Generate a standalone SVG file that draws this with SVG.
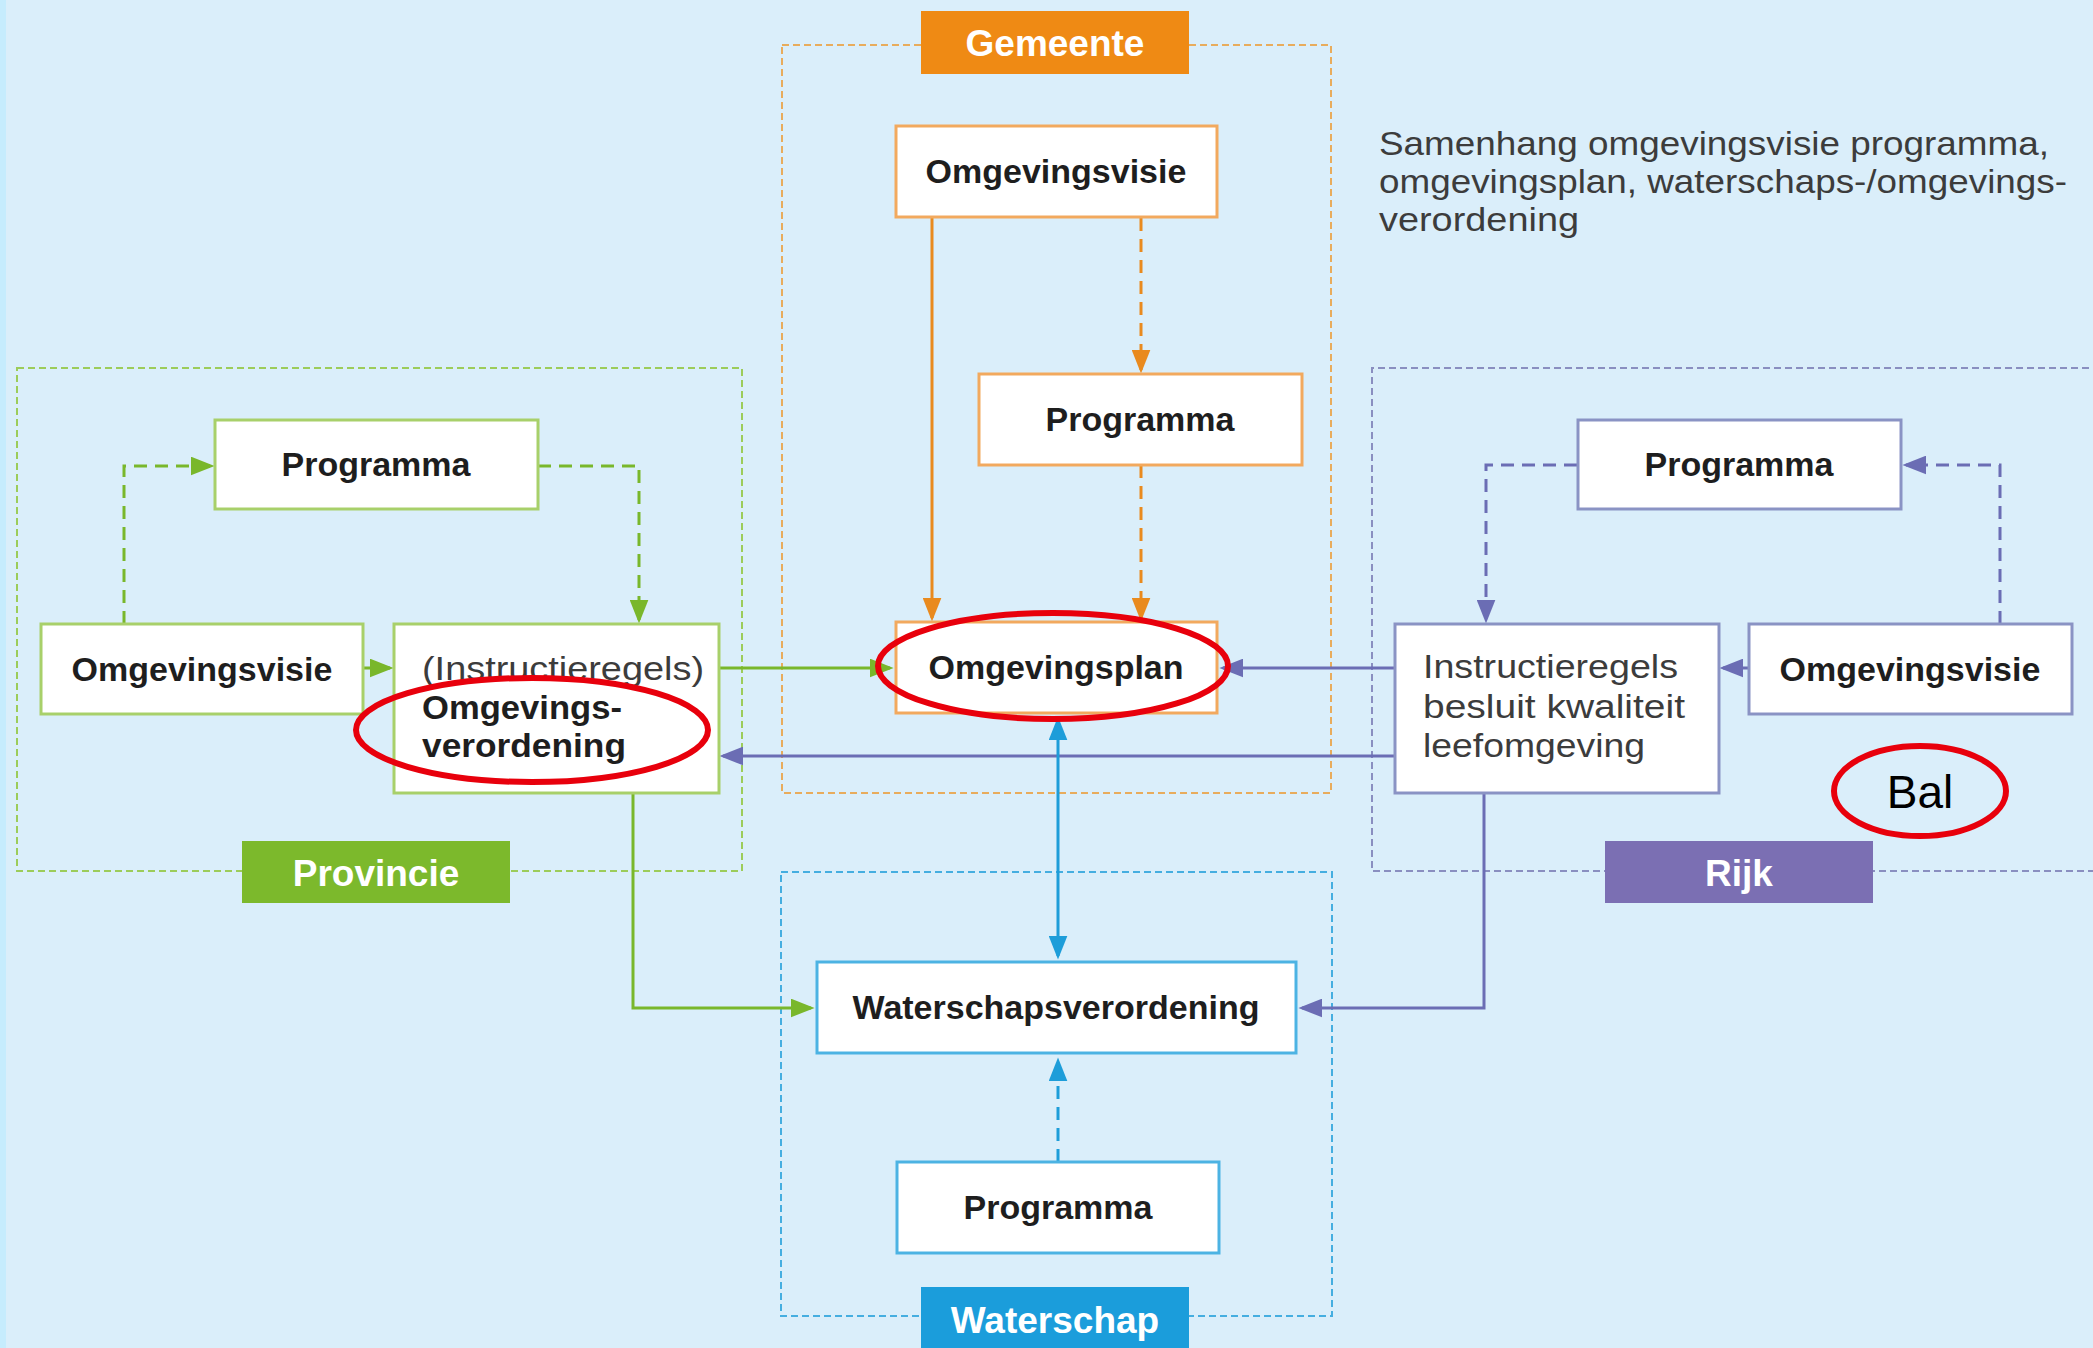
<svg xmlns="http://www.w3.org/2000/svg" width="2093" height="1348" viewBox="0 0 2093 1348">
<defs>
<style>
.t{font-family:"Liberation Sans",Arial,"DejaVu Sans",sans-serif;fill:#1e1e1e}
.b{font-weight:700;font-size:34px;text-anchor:middle}
.r{font-weight:400;font-size:33.5px;fill:#3c3c3c}
.bl{font-weight:700;font-size:34px;fill:#1e1e1e}
.lbl{font-weight:700;font-size:37px;fill:#fff;text-anchor:middle}
.grp{fill:none;stroke-width:2;stroke-dasharray:7 4}
.node{fill:#fff;stroke-width:3}
.ln{fill:none;stroke-width:3}
.dash{stroke-dasharray:13 8}
.red{fill:none;stroke:#e8000c;stroke-width:6}
.go{stroke:#e8ac5c}.gp{stroke:#9ccc5a}.gr{stroke:#8a8fc0}.gw{stroke:#45aee0}
.no{stroke:#f2a95e}.np{stroke:#a8d06a}.nr{stroke:#8a93c4}.nw{stroke:#4cb3e3}
.lo{stroke:#e98a1e}.lp{stroke:#79b72b}.lr{stroke:#6b6db4}.lw{stroke:#1d9dd9}
</style>
<marker id="aO" viewBox="0 0 10 10" refX="8.5" refY="5" markerWidth="24" markerHeight="19" markerUnits="userSpaceOnUse" preserveAspectRatio="none" orient="auto"><path d="M0,0L10,5L0,10z" fill="#e98a1e"/></marker>
<marker id="aP" viewBox="0 0 10 10" refX="8.5" refY="5" markerWidth="24" markerHeight="19" markerUnits="userSpaceOnUse" preserveAspectRatio="none" orient="auto"><path d="M0,0L10,5L0,10z" fill="#79b72b"/></marker>
<marker id="aR" viewBox="0 0 10 10" refX="8.5" refY="5" markerWidth="24" markerHeight="19" markerUnits="userSpaceOnUse" preserveAspectRatio="none" orient="auto"><path d="M0,0L10,5L0,10z" fill="#6b6db4"/></marker>
<marker id="aW" viewBox="0 0 10 10" refX="8.5" refY="5" markerWidth="24" markerHeight="19" markerUnits="userSpaceOnUse" preserveAspectRatio="none" orient="auto-start-reverse"><path d="M0,0L10,5L0,10z" fill="#1d9dd9"/></marker>
</defs>

<rect x="0" y="0" width="2093" height="1348" fill="#daeefa"/>
<rect x="0" y="0" width="6" height="1348" fill="#c6ecfd"/>

<!-- group frames -->
<g id="groups">
  <rect class="grp go" x="782" y="45" width="549" height="748"/>
  <rect class="grp gp" x="17" y="368" width="725" height="503"/>
  <path class="grp gr" d="M2100,368 H1372 V871 H2100"/>
  <rect class="grp gw" x="781" y="872" width="551" height="444"/>
</g>

<!-- title -->
<g id="title">
  <text class="t r" x="1379" y="155" textLength="670" lengthAdjust="spacingAndGlyphs">Samenhang omgevingsvisie programma,</text>
  <text class="t r" x="1379" y="193" textLength="688" lengthAdjust="spacingAndGlyphs">omgevingsplan, waterschaps-/omgevings-</text>
  <text class="t r" x="1379" y="231" textLength="200" lengthAdjust="spacingAndGlyphs">verordening</text>
</g>

<!-- connectors -->
<g id="connectors">
  <path class="ln lo" d="M932,218 V618" marker-end="url(#aO)"/>
  <path class="ln lo dash" d="M1141,218 V370" marker-end="url(#aO)"/>
  <path class="ln lo dash" d="M1141,465 V618" marker-end="url(#aO)"/>

  <path class="ln lp dash" d="M124,624 V466 H211" marker-end="url(#aP)"/>
  <path class="ln lp dash" d="M538,466 H639 V620" marker-end="url(#aP)"/>
  <path class="ln lp" d="M363,668 H390" marker-end="url(#aP)"/>
  <path class="ln lp" d="M719,668 H890" marker-end="url(#aP)"/>
  <path class="ln lp" d="M633,793 V1008 H811" marker-end="url(#aP)"/>

  <path class="ln lr dash" d="M2000,624 V465 H1906" marker-end="url(#aR)"/>
  <path class="ln lr dash" d="M1577,465 H1486 V620" marker-end="url(#aR)"/>
  <path class="ln lr" d="M1748,668 H1723" marker-end="url(#aR)"/>
  <path class="ln lr" d="M1395,668 H1223" marker-end="url(#aR)"/>
  <path class="ln lr" d="M1395,756 H723" marker-end="url(#aR)"/>
  <path class="ln lr" d="M1484,793 V1008 H1302" marker-end="url(#aR)"/>

  <path class="ln lw" d="M1058,720 V956" marker-start="url(#aW)" marker-end="url(#aW)"/>
  <path class="ln lw dash" d="M1058,1162 V1061" marker-end="url(#aW)"/>
</g>

<!-- Gemeente -->
<g id="label-gemeente">
  <rect x="921" y="11" width="268" height="63" fill="#ef8a14"/>
  <text class="t lbl" x="1055" y="56">Gemeente</text>
</g>
<g id="gem-omgevingsvisie">
  <rect class="node no" x="896" y="126" width="321" height="91"/>
  <text class="t b" x="1056" y="183">Omgevingsvisie</text>
</g>
<g id="gem-programma">
  <rect class="node no" x="979" y="374" width="323" height="91"/>
  <text class="t b" x="1140" y="431">Programma</text>
</g>
<g id="gem-omgevingsplan">
  <rect class="node no" x="896" y="622" width="321" height="91" fill="#fffaf2"/>
  <text class="t b" x="1056" y="679">Omgevingsplan</text>
</g>

<!-- Provincie -->
<g id="label-provincie">
  <rect x="242" y="841" width="268" height="62" fill="#7cb92c"/>
  <text class="t lbl" x="376" y="886">Provincie</text>
</g>
<g id="prov-programma">
  <rect class="node np" x="215" y="420" width="323" height="89"/>
  <text class="t b" x="376" y="476">Programma</text>
</g>
<g id="prov-omgevingsvisie">
  <rect class="node np" x="41" y="624" width="322" height="90"/>
  <text class="t b" x="202" y="681">Omgevingsvisie</text>
</g>
<g id="prov-omgevingsverordening">
  <rect class="node np" x="394" y="624" width="325" height="169"/>
  <text class="t r" x="422" y="680" textLength="282" lengthAdjust="spacingAndGlyphs">(Instructieregels)</text>
  <text class="t bl" x="422" y="719" textLength="200" lengthAdjust="spacingAndGlyphs">Omgevings-</text>
  <text class="t bl" x="422" y="757" textLength="204" lengthAdjust="spacingAndGlyphs">verordening</text>
</g>

<!-- Rijk -->
<g id="label-rijk">
  <rect x="1605" y="841" width="268" height="62" fill="#7b6fb3"/>
  <text class="t lbl" x="1739" y="886">Rijk</text>
</g>
<g id="rijk-programma">
  <rect class="node nr" x="1578" y="420" width="323" height="89"/>
  <text class="t b" x="1739" y="476">Programma</text>
</g>
<g id="rijk-instructieregels">
  <rect class="node nr" x="1395" y="624" width="324" height="169"/>
  <text class="t r" x="1423" y="678" textLength="255" lengthAdjust="spacingAndGlyphs">Instructieregels</text>
  <text class="t r" x="1423" y="718" textLength="262" lengthAdjust="spacingAndGlyphs">besluit kwaliteit</text>
  <text class="t r" x="1423" y="757" textLength="222" lengthAdjust="spacingAndGlyphs">leefomgeving</text>
</g>
<g id="rijk-omgevingsvisie">
  <rect class="node nr" x="1749" y="624" width="323" height="90"/>
  <text class="t b" x="1910" y="681">Omgevingsvisie</text>
</g>

<!-- Waterschap -->
<g id="label-waterschap">
  <rect x="921" y="1287" width="268" height="70" fill="#1b9ddb"/>
  <text class="t lbl" x="1055" y="1333">Waterschap</text>
</g>
<g id="ws-waterschapsverordening">
  <rect class="node nw" x="817" y="962" width="479" height="91"/>
  <text class="t b" x="1056" y="1019">Waterschapsverordening</text>
</g>
<g id="ws-programma">
  <rect class="node nw" x="897" y="1162" width="322" height="91"/>
  <text class="t b" x="1058" y="1219">Programma</text>
</g>

<!-- red highlights -->
<g id="highlights">
  <ellipse class="red" cx="1053" cy="666" rx="175" ry="53"/>
  <ellipse class="red" cx="532" cy="730" rx="176" ry="52"/>
  <g id="bal">
    <ellipse class="red" cx="1920" cy="791" rx="86" ry="45"/>
    <text x="1920" y="808" text-anchor="middle" font-family="'Liberation Sans',Arial,sans-serif" font-size="46" fill="#000">Bal</text>
  </g>
</g>
</svg>
